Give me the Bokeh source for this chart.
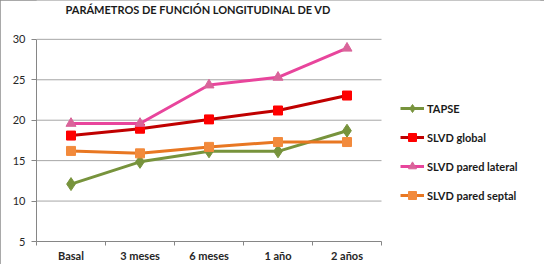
from bokeh.plotting import figure
from bokeh.models import FixedTicker, Legend, LegendItem, Range1d, InlineStyleSheet, Label
from bokeh.embed import file_html
from bokeh.resources import INLINE

categories = ["Basal", "3 meses", "6 meses", "1 año", "2 años"]
tapse = [12.1, 14.85, 16.15, 16.15, 18.7]
slvd_global = [18.1, 18.95, 20.1, 21.2, 23.05]
slvd_lateral = [19.6, 19.6, 24.35, 25.3, 28.9]
slvd_septal = [16.2, 15.9, 16.7, 17.3, 17.3]
y_ticks = [5, 10, 15, 20, 25, 30]
title_text = "PARÁMETROS DE FUNCIÓN LONGITUDINAL DE VD"

FONT = "Lato"
x = list(range(1, len(categories) + 1))
n = len(categories)
# frame extends past the category area to host the legend; keep 69 px per category
px_per_cat = 69.0
frame_w = 544 - 36 - 4
frame_h = 264 - 22
px_per_unit = 203.0 / (y_ticks[-1] - y_ticks[0])
y_top = y_ticks[-1] + 39 / px_per_unit

p = figure(width=544, height=264, output_backend="svg", toolbar_location=None,
           x_range=Range1d(0.5, 0.5 + frame_w / px_per_cat),
           y_range=Range1d(y_ticks[0], y_top),
           min_border_left=36, min_border_right=4, min_border_top=0, min_border_bottom=22)
p.outline_line_color = None
p.background_fill_color = "white"
p.border_fill_color = "white"
p.stylesheets = [InlineStyleSheet(css=":host { outline: 1px solid #8c8c8c; outline-offset: -1px; }")]

p.xgrid.visible = False
p.ygrid.visible = False
p.segment(x0=0.5, x1=n + 0.5, y0=y_ticks[1:], y1=y_ticks[1:], line_color="#a6a6a6", line_width=1)

p.yaxis.ticker = FixedTicker(ticks=y_ticks)
p.yaxis.bounds = (y_ticks[0], y_ticks[-1])
p.yaxis.axis_line_color = "#868686"
p.yaxis.major_tick_line_color = "#868686"
p.yaxis.major_tick_out = 5
p.yaxis.major_tick_in = 0
p.yaxis.minor_tick_line_color = None
p.yaxis.major_label_text_font = FONT
p.yaxis.major_label_text_font_size = "11px"
p.yaxis.major_label_text_color = "#262626"
p.yaxis.major_label_standoff = 6

p.xaxis.ticker = FixedTicker(ticks=x, minor_ticks=[i + 0.5 for i in range(n + 1)])
p.xaxis.bounds = (0.5, n + 0.5)
p.xaxis.major_label_overrides = {i: c for i, c in zip(x, categories)}
p.xaxis.axis_line_color = "#868686"
p.xaxis.major_tick_line_color = None
p.xaxis.minor_tick_line_color = "#868686"
p.xaxis.minor_tick_out = 4
p.xaxis.minor_tick_in = 0
p.xaxis.major_label_text_font = FONT
p.xaxis.major_label_text_font_size = "11px"
p.xaxis.major_label_text_font_style = "bold"
p.xaxis.major_label_text_color = "#262626"
p.xaxis.major_label_standoff = 1

series = [
    ("TAPSE", tapse, "#77933c", "#77933c", "diamond", 13),
    ("SLVD global", slvd_global, "#c00000", "#ff0000", "square", 9),
    ("SLVD pared lateral", slvd_lateral, "#e8459c", "#d9649a", "triangle", 10),
    ("SLVD pared septal", slvd_septal, "#e87722", "#f28a3c", "square", 9),
]
items = []
for name, vals, lc, mc, marker, size in series:
    r1 = p.line(x, vals, line_color=lc, line_width=3)
    r2 = p.scatter(x, vals, marker=marker, size=size, fill_color=mc, line_color=mc)
    items.append(LegendItem(label=name, renderers=[r1, r2]))

legend = Legend(items=items, location=(364, 36), padding=0, margin=0,
                spacing=9, glyph_height=20, glyph_width=24, label_standoff=3,
                border_line_color=None, background_fill_alpha=0,
                label_text_font=FONT, label_text_font_size="11px",
                label_text_font_style="bold", label_text_color="#1a1a1a")
p.add_layout(legend)

title = Label(x=29, y=frame_h - 10, x_units="screen", y_units="screen", text=title_text,
              text_font=FONT, text_font_size="11px", text_font_style="bold",
              text_color="#1a1a1a", text_baseline="middle", text_align="left")
p.add_layout(title)

open("out.html", "w").write(file_html(p, INLINE))
